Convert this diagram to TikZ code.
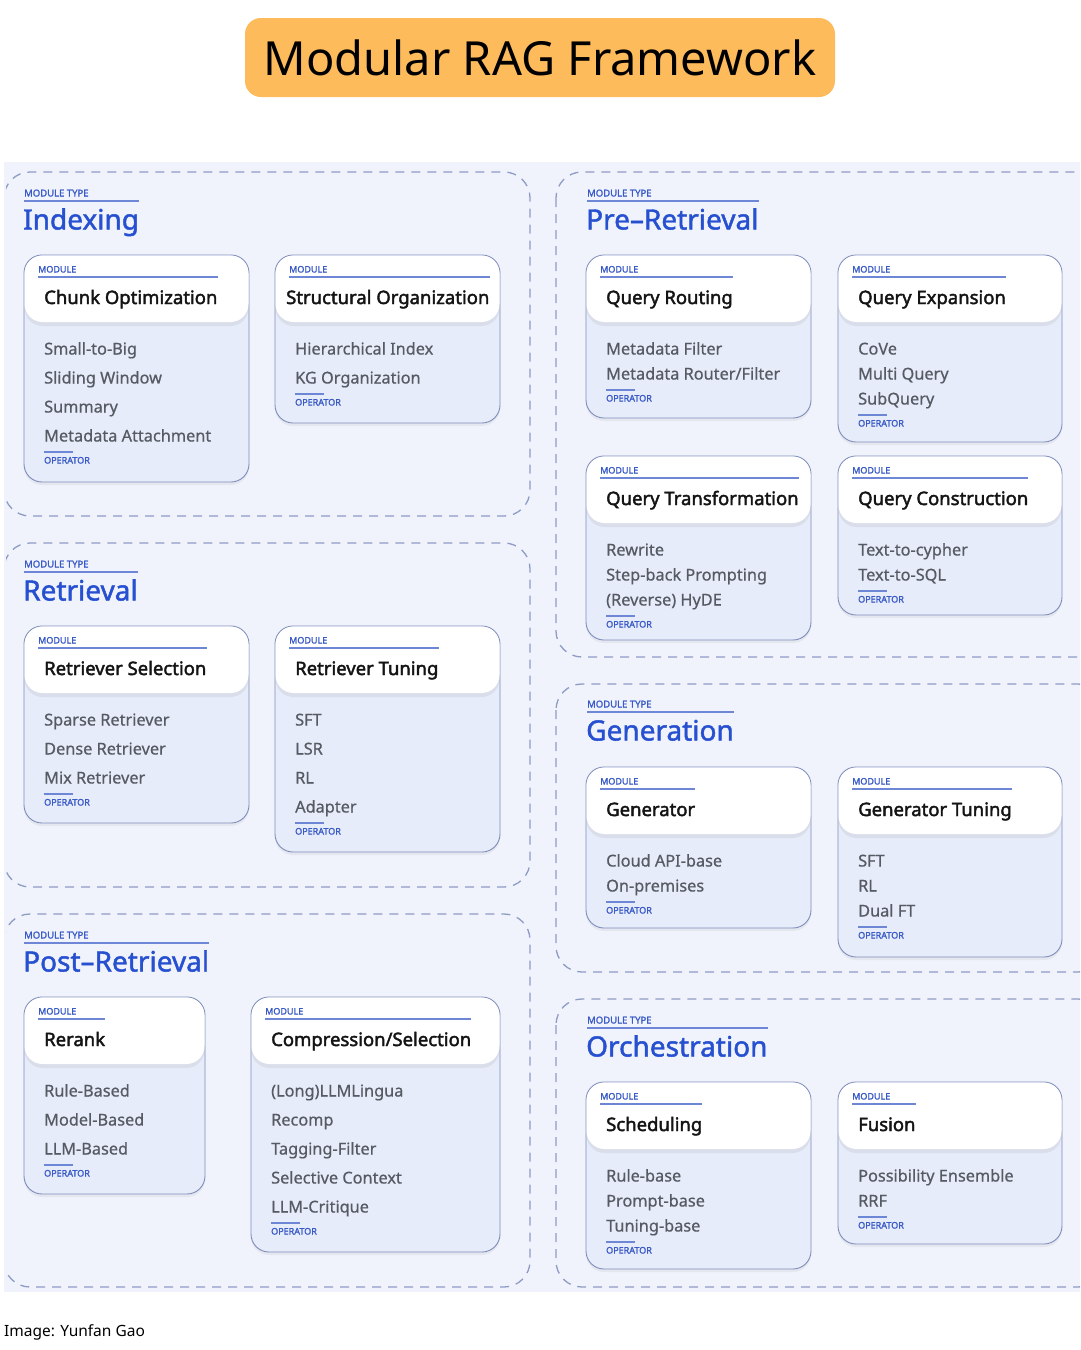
\documentclass[tikz,border=0pt]{standalone}
\usepackage{fontspec}
\setmainfont{Noto Sans}
\newfontfamily\fsemi{Noto Sans}[FakeBold=2.2]
\newfontfamily\fmed{Noto Sans}[FakeBold=1.6]
\newfontfamily\flight{Noto Sans}[FakeBold=0.6]
\usetikzlibrary{shadows}
\definecolor{titleorange}{HTML}{FDBB5C}
\definecolor{bglav}{HTML}{F0F3FC}
\definecolor{dashc}{HTML}{8E9BC4}
\definecolor{bodyc}{HTML}{E7ECFA}
\definecolor{borderc}{HTML}{7F8DBA}
\definecolor{lblblue}{HTML}{3A5BC7}
\definecolor{lineblue}{HTML}{6E86D6}
\definecolor{grpblue}{HTML}{2650D0}
\definecolor{itemgray}{HTML}{555A63}
\tikzset{
  txt/.style={inner sep=0pt, anchor=base west},
  mtlbl/.style={txt, font=\fontsize{9.5}{10}\fmed, text=lblblue},
  gtitle/.style={txt, font=\fontsize{28}{30}\fmed, text=grpblue},
  modlbl/.style={txt, font=\fontsize{9}{10}\fmed, text=lblblue},
  modtitle/.style={txt, font=\fontsize{18.5}{21}\fsemi, text=black!92},
  itemtxt/.style={txt, font=\fontsize{16.3}{19}\flight, text=itemgray},
  oplbl/.style={txt, font=\fontsize{9}{10}\fmed, text=lblblue},
  uline/.style={draw=lineblue, line width=1.4pt},
  grpbox/.style={draw=dashc, line width=1.3pt, dash pattern=on 9pt off 7pt, rounded corners=26pt},
  cardbody/.style={fill=bodyc, draw=borderc, line width=0.9pt, rounded corners=18pt,
     drop shadow={opacity=0.10, shadow xshift=0pt, shadow yshift=-3pt}},
  cardhead/.style={fill=white, rounded corners=18pt,
     drop shadow={opacity=0.12, shadow xshift=0pt, shadow yshift=-4pt}},
  titlebox/.style={fill=titleorange, rounded corners=16pt, minimum width=590pt, minimum height=79pt,
     inner sep=0pt, font=\fontsize{47}{52}\selectfont, text=black},
  captxt/.style={txt, font=\fontsize{15.5}{18}\selectfont, text=black}
}
\def\toff{20}
% #1 name, #2 x1, #3 y1, #4 x2, #5 y2, #6 title, #7 spacing, #8 items
\newcommand\mcard[8]{%
  \draw[cardbody] (#2,#3) rectangle (#4,#5);
  \fill[cardhead] (#2+0.5,#3+0.5) rectangle (#4-0.5,#3+67);
  \node[modlbl] (#1-m) at (#2+14,#3+17.5) {MODULE};
  \node[modtitle] (#1-t) at (#2+\toff,#3+49) {#6};
  \coordinate (#1-u) at (#2+14,#3+22);
  \draw[uline] (#1-u) -- (#1-u -| #1-t.east);
  \foreach \itm [count=\i] in {#8}{%
    \node[itemtxt] (#1-i\i) at (#2+20,#3+99.5+\i*#7-#7) {\itm};
    \xdef\lastn{\i}%
  }
  \coordinate (#1-last) at (#2+20,#3+93.5+\lastn*#7-#7);
  \draw[uline] ([yshift=-16.5pt]#1-last) -- ++(29,0);
  \node[oplbl] (#1-op) at ([yshift=-28pt]#1-last) {OPERATOR};
}
% #1 name, #2 x, #3 y of MODULE TYPE label, #4 title
\newcommand\mgroup[4]{%
  \node[mtlbl] (#1-mt) at (#2,#3+3.5) {MODULE TYPE};
  \node[gtitle] (#1-t) at (#2-1,#3+36.5) {#4};
  \coordinate (#1-u) at (#2,#3+8);
  \draw[uline] (#1-u) -- (#1-u -| #1-t.east);
}
\begin{document}
\begin{tikzpicture}[x=1pt,y=-1pt]
\useasboundingbox (0,0) rectangle (1080,1350);
\fill[white] (0,0) rectangle (1080,1350);
\node[titlebox] (title) at (540,57.5) {Modular RAG Framework};
\fill[bglav] (4,162) rectangle (1080,1292);
\begin{scope}
\clip (6,150) rectangle (1080,1300);
\draw[grpbox] (4,172) rectangle (530,516);
\draw[grpbox] (4,543) rectangle (530,887);
\draw[grpbox] (4,914) rectangle (530,1287);
\draw[grpbox] (556,172) rectangle (1104,657);
\draw[grpbox] (556,684) rectangle (1104,972);
\draw[grpbox] (556,999) rectangle (1104,1287);
\end{scope}
% Indexing
\mgroup{gidx}{24}{193}{Indexing}
\mcard{chunk}{24}{255}{249}{482}{Chunk Optimization}{29}{Small-to-Big,Sliding Window,Summary,Metadata Attachment}
\def\toff{11}
\mcard{struct}{275}{255}{500}{423}{Structural Organization}{29}{Hierarchical Index,KG Organization}
\def\toff{20}
% Retrieval
\mgroup{gret}{24}{564}{Retrieval}
\mcard{rsel}{24}{626}{249}{823}{Retriever Selection}{29}{Sparse Retriever,Dense Retriever,Mix Retriever}
\mcard{rtun}{275}{626}{500}{852}{Retriever Tuning}{29}{SFT,LSR,RL,Adapter}
% Post-Retrieval
\mgroup{gpost}{24}{935}{Post–Retrieval}
\mcard{rerank}{24}{997}{205}{1194}{Rerank}{29}{Rule-Based,Model-Based,LLM-Based}
\mcard{comp}{251}{997}{500}{1252}{Compression/Selection}{29}{(Long)LLMLingua,Recomp,Tagging-Filter,Selective Context,LLM-Critique}
% Pre-Retrieval
\mgroup{gpre}{587}{193}{Pre–Retrieval}
\mcard{qr}{586}{255}{811}{418}{Query Routing}{25}{Metadata Filter,{Metadata Router/Filter}}
\mcard{qe}{838}{255}{1062}{442}{Query Expansion}{25}{CoVe,Multi Query,SubQuery}
\mcard{qt}{586}{456}{811}{640}{Query Transformation}{25}{Rewrite,Step-back Prompting,(Reverse) HyDE}
\mcard{qc}{838}{456}{1062}{615}{Query Construction}{25}{Text-to-cypher,Text-to-SQL}
% Generation
\mgroup{ggen}{587}{704}{Generation}
\mcard{gen}{586}{767}{811}{928}{Generator}{25}{Cloud API-base,On-premises}
\mcard{gtun}{838}{767}{1062}{957}{Generator Tuning}{25}{SFT,RL,Dual FT}
% Orchestration
\mgroup{gorch}{587}{1020}{Orchestration}
\mcard{sched}{586}{1082}{811}{1269}{Scheduling}{25}{Rule-base,Prompt-base,Tuning-base}
\mcard{fusion}{838}{1082}{1062}{1244}{Fusion}{25}{Possibility Ensemble,RRF}
% caption
\node[captxt] (cap) at (4,1336) {Image: Yunfan Gao};
\end{tikzpicture}
\end{document}
